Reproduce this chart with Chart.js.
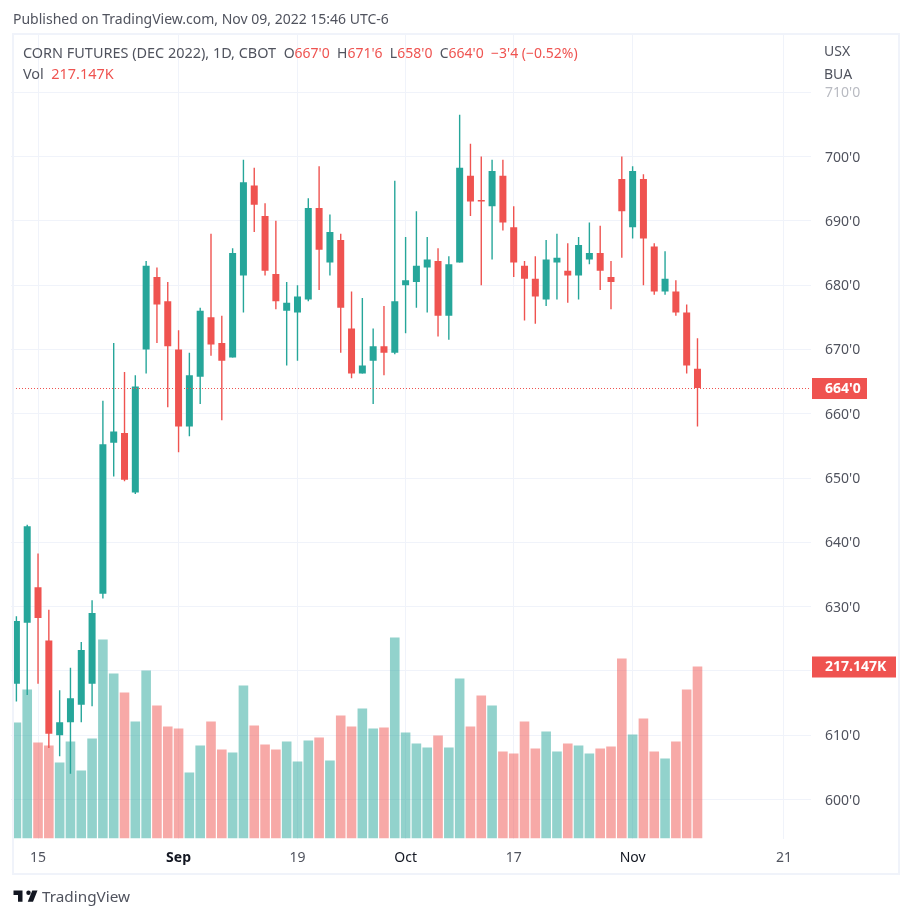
<!DOCTYPE html>
<html>
<head>
  <title>Corn Futures (Dec 2022)</title>
  <style>
    body { margin: 0; background: #fff; font-family: "Noto Sans", sans-serif; color: #50535e; }
    #page { position: relative; width: 912px; height: 918px; overflow: hidden; }
    #chart { position: absolute; left: 0; top: 0; }
    #frame { position: absolute; left: 12px; top: 33px; width: 888px; height: 842px; box-sizing: border-box; border: 2px solid #f0f3fa; }
    .txt { position: absolute; white-space: pre; font-size: 14px; line-height: 18px; }
    .red { color: #ef5350; }
    .vals { font-size: 14px; }
    #logo { position: absolute; left: 11.5px; top: 885.5px; }
  </style>
</head>
<body>
  <div id="page">
    <canvas id="chart" width="912" height="918"></canvas>
    <div id="frame"></div>
    <div class="txt" style="left:13px; top:10px">Published on TradingView.com, Nov 09, 2022 15:46 UTC-6</div>
    <div class="txt" style="left:23px; top:44px; font-size:14.45px">CORN FUTURES (DEC 2022), 1D, CBOT  <span class="vals">O<span class="red">667'0</span>  H<span class="red">671'6</span>  L<span class="red">658'0</span>  C<span class="red">664'0</span>  <span class="red">−3'4 (−0.52%)</span></span></div>
    <div class="txt" style="left:23px; top:65px; font-size:14.45px">Vol  <span class="red">217.147K</span></div>
    <div class="txt" style="left:824px; top:42px">USX</div>
    <div class="txt" style="left:824px; top:65px">BUA</div>
    <svg id="logo" width="27" height="21" viewBox="0 0 36 28"><path fill="#131722" d="M14 6H2v6h6v9h6V6zm14 15h-7l6-15h7l-6 15zm-6-9a3 3 0 1 0 0-6 3 3 0 0 0 0 6z"/></svg>
    <div class="txt" style="left:42px; top:887px; font-size:15.3px">TradingView</div>
  </div>
  <script src="https://cdn.jsdelivr.net/npm/chart.js"></script>
  <script>
    const categories = [
      'Aug 11','Aug 12','Aug 15','Aug 16','Aug 17','Aug 18','Aug 19','Aug 22','Aug 23','Aug 24','Aug 25','Aug 26','Aug 29','Aug 30','Aug 31',
      'Sep 1','Sep 2','Sep 6','Sep 7','Sep 8','Sep 9','Sep 12','Sep 13','Sep 14','Sep 15','Sep 16','Sep 19','Sep 20','Sep 21','Sep 22','Sep 23','Sep 26','Sep 27','Sep 28','Sep 29','Sep 30',
      'Oct 3','Oct 4','Oct 5','Oct 6','Oct 7','Oct 10','Oct 11','Oct 12','Oct 13','Oct 14','Oct 17','Oct 18','Oct 19','Oct 20','Oct 21','Oct 24','Oct 25','Oct 26','Oct 27','Oct 28','Oct 31',
      'Nov 1','Nov 2','Nov 3','Nov 4','Nov 7','Nov 8','Nov 9',
      'Nov 10','Nov 11','Nov 14','Nov 15','Nov 16','Nov 17','Nov 18','Nov 21','Nov 22','Nov 23'
    ];
    const opens = [
      618,627.5,633,624.75,610,612,614.75,618,632,655.5,657,647.75,670,681.25,677.5,
      670,658,665.75,675,671,668.75,681.5,695.5,690.75,681.75,676,675.75,677.75,692,683.5,687,673.25,666.25,668.25,670.5,669.5,
      680,680.5,682.75,683.75,675.25,683.5,697,693.25,692.25,697,689,683,681,677.75,683.5,682.25,681.5,684,685,681.25,696.5,
      689,696.5,686,679,679,675.75,667
    ];
    const highs = [
      628.5,642.75,638.25,629.5,617,620.5,624.5,631,662,671,666.5,666,683.75,682.75,680.5,
      673,669.5,676.5,688,675.25,685.75,699.5,698.25,692.75,690,680.5,680,693.5,698.5,691,688,679,678,673.25,676.75,696.25,
      687.5,691.5,687.5,685.75,684.5,706.5,702,700,699.5,699.5,692.25,683.75,684.5,687,688,686.5,687.5,689.75,689.25,683.75,700,
      698.5,697.25,686.5,685.25,680.75,677,671.75
    ];
    const lows = [
      615.25,616.25,618,608,606.75,604,612,614.5,631.25,650.25,649.5,647.5,666.25,671,661,
      654,656.5,661.5,669,659,668.75,675.75,688.25,681.5,676.25,667.5,668.25,677.5,679.25,681.5,669.5,665.5,666.25,661.5,666,669.25,
      672.5,676.5,675.75,672,671.5,683.5,690.75,680,684,688.5,681.25,674.5,674,676.75,677.75,677.25,677.75,683.25,679.25,676.25,684.25,
      687.25,680,678.5,678.5,675.25,666.25,658
    ];
    const closes = [
      627.75,642.5,628.25,610.25,612,615.75,623.25,629,655.25,657.25,649.75,664.25,683,677,670.5,
      658,666,676,670.75,668.25,685,696,692.5,682.25,677.5,677.25,678.25,692,685.5,688.25,676.5,666.25,667.5,670.5,669.5,677.5,
      680.75,683,684,675.25,683.25,698.25,693,693,697.75,689.75,683.5,681,678.25,684,684.25,681.5,686.25,685,682.25,680.5,691.5,
      697.75,687.25,679,681,675.75,667.5,664
    ];
    // volume in thousands
    const volumes = [
      146.4,188.1,121.2,117.4,95.9,122.5,85.8,126.2,251.2,208.3,184.3,147.7,212.1,167.9,141.4,
      138.9,83.3,117.4,147.7,112.4,108.6,193.1,142.7,118.7,112.4,122.5,97.2,123.7,127.5,98.5,155.3,141.4,164.1,138.9,140.1,253.7,
      133.8,119.9,114.9,130,114.9,202,141.4,180.5,167.9,109.8,107.3,147.7,113.6,135.1,109.8,119.9,117.4,107.3,113.6,116.1,227.2,
      131.3,151.5,109.8,101,122.5,188.1,217.147
    ];
    const tickDates = ['Aug 15','Sep 1','Sep 19','Oct 3','Oct 17','Nov 1','Nov 21'];
    const tickTexts = ['15','Sep','19','Oct','17','Nov','21'];
    const boldTicks = ['Sep','Oct','Nov'];

    const UP = '#26a69a';
    const DOWN = '#ef5350';
    const UP_VOL = 'rgba(38,166,154,0.5)';
    const DOWN_VOL = 'rgba(239,83,80,0.5)';
    const GRID = '#f0f3fa';

    const candleColors = opens.map((o, i) => closes[i] >= o ? UP : DOWN);
    const volumeColors = opens.map((o, i) => closes[i] >= o ? UP_VOL : DOWN_VOL);
    const leftClip = { left: -2, top: 0, right: 0, bottom: 0 };

    // dotted last price line and the two red tags on the price scale
    const lastValues = {
      id: 'lastValues',
      afterDatasetsDraw(chart) {
        const { ctx, chartArea, scales } = chart;
        const lastIdx = closes.length - 1;
        const y = scales.y.getPixelForValue(closes[lastIdx]);
        const yv = scales.volume.getPixelForValue(volumes[lastIdx]);
        ctx.save();
        ctx.strokeStyle = DOWN;
        ctx.lineWidth = 1;
        ctx.setLineDash([1, 2]);
        ctx.beginPath();
        ctx.moveTo(chartArea.left + 2, Math.round(y) + 0.5);
        ctx.lineTo(chartArea.right, Math.round(y) + 0.5);
        ctx.stroke();
        ctx.setLineDash([]);
        ctx.fillStyle = DOWN;
        ctx.fillRect(chartArea.right + 1, y - 10, 55, 21);
        ctx.fillRect(chartArea.right + 1, yv - 10, 84, 21);
        ctx.fillStyle = '#fff';
        ctx.font = 'bold 14px "Noto Sans"';
        ctx.textBaseline = 'middle';
        ctx.fillText("664'0", 825, y + 1);
        ctx.fillText('217.147K', 825, yv + 1);
        ctx.restore();
      }
    };

    new Chart(document.getElementById('chart'), {
      type: 'bar',
      plugins: [lastValues],
      data: {
        labels: categories,
        datasets: [
          {
            label: 'Volume',
            yAxisID: 'volume',
            data: volumes,
            backgroundColor: volumeColors,
            barThickness: 9.6,
            inflateAmount: 0,
            clip: leftClip,
            order: 3
          },
          {
            label: 'Wick',
            yAxisID: 'y',
            data: lows.map((l, i) => [l, highs[i]]),
            backgroundColor: candleColors,
            barThickness: 1.4,
            inflateAmount: 0,
            clip: leftClip,
            order: 2
          },
          {
            label: 'Body',
            yAxisID: 'y',
            data: opens.map((o, i) => [o, closes[i]]),
            backgroundColor: candleColors,
            barThickness: 7,
            inflateAmount: 0,
            clip: leftClip,
            order: 1
          }
        ]
      },
      options: {
        responsive: false,
        animation: false,
        devicePixelRatio: 1,
        datasets: { bar: { grouped: false, borderWidth: 0 } },
        layout: { padding: { left: 11, top: 35, right: 13, bottom: 44 } },
        plugins: { legend: { display: false }, tooltip: { enabled: false } },
        scales: {
          x: {
            type: 'category',
            offset: true,
            border: { display: false },
            grid: { color: GRID, offset: false, drawTicks: false },
            afterBuildTicks(scale) {
              scale.ticks = scale.ticks.filter(t => tickDates.includes(categories[t.value]));
            },
            afterFit(scale) { scale.height = 35.5; },
            ticks: {
              autoSkip: false,
              maxRotation: 0,
              padding: 11.5,
              callback(value) { return tickTexts[tickDates.indexOf(categories[value])]; },
              color: c => boldTicks.includes(c.tick.label) ? '#131722' : '#50535e',
              font: c => ({
                family: 'Noto Sans',
                size: 14,
                weight: c.tick.label === 'Sep' ? 'bold' : 'normal'
              })
            }
          },
          y: {
            position: 'right',
            min: 593.94,
            max: 718.9,
            border: { display: false },
            grid: { color: GRID, drawTicks: false },
            afterFit(scale) { scale.width = 88; },
            ticks: {
              stepSize: 10,
              includeBounds: false,
              padding: 14,
              labelOffset: 1,
              callback: v => v + "'0",
              color: c => c.tick.value === 710 ? '#b9bbc2' : '#50535e',
              font: { family: 'Noto Sans', size: 14 }
            }
          },
          volume: {
            display: false,
            min: 0,
            max: 1014.4
          }
        }
      }
    });
  </script>
</body>
</html>
